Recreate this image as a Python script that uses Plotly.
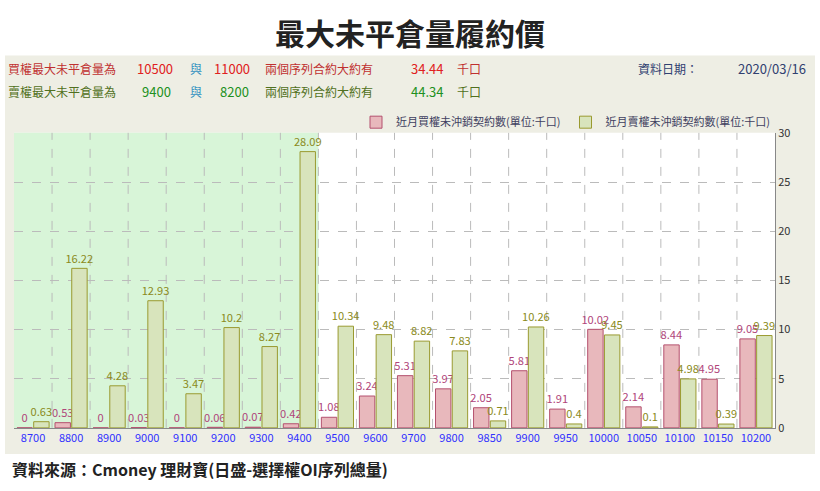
import plotly.graph_objects as go

strikes = ["8700","8800","8900","9000","9100","9200","9300","9400","9500","9600","9700","9800","9850","9900","9950","10000","10050","10100","10150","10200"]
call_oi = [0,0.53,0,0.03,0,0.06,0.07,0.42,1.08,3.24,5.31,3.97,2.05,5.81,1.91,10.02,2.14,8.44,4.95,9.05]
put_oi = [0.63,16.22,4.28,12.93,3.47,10.2,8.27,28.09,10.34,9.48,8.82,7.83,0.71,10.26,0.4,9.45,0.1,4.98,0.39,9.39]
y_ticks = [0,5,10,15,20,25,30]

W,H = 820,491
def px(x): return x/W
def py(y): return 1-y/H

xs = list(range(len(strikes)))
fig = go.Figure()
fig.add_bar(x=xs, y=call_oi, name="近月買權未沖銷契約數(單位:千口)", marker=dict(color="#E8B8BC", line=dict(color="#B4506E", width=1)),
            text=[f"{v:g}" for v in call_oi], textposition="outside", cliponaxis=False,
            textfont=dict(color="#B0457A", size=12))
fig.add_bar(x=xs, y=put_oi, name="近月賣權未沖銷契約數(單位:千口)", marker=dict(color="#D8E4BC", line=dict(color="#9A9A30", width=1)),
            text=[f"{v:g}" for v in put_oi], textposition="outside", cliponaxis=False,
            textfont=dict(color="#8A8A20", size=12))

shapes = [
    dict(type="rect", xref="paper", yref="paper", x0=px(5), x1=px(815), y0=py(460), y1=py(48), fillcolor="#EEEEE4", line=dict(width=0), layer="below"),
    dict(type="rect", xref="paper", yref="paper", x0=px(14), x1=px(775), y0=py(433), y1=py(128), fillcolor="white", line=dict(width=0), layer="below"),
    dict(type="rect", xref="x", yref="paper", x0=-0.5, x1=7.5, y0=py(433), y1=py(128), fillcolor="#D8F5D8", line=dict(width=0), layer="below"),
]
for i in range(len(strikes)-1):
    shapes.append(dict(type="line", xref="x", yref="paper", x0=i+0.5, x1=i+0.5, y0=py(433), y1=py(128), line=dict(color="#BBBBBB", width=1, dash="dash"), layer="below"))

ann = [
    dict(text="<b>最大未平倉量履約價</b>", x=0.5, y=py(24), yanchor="middle", xref="paper", yref="paper", showarrow=False, font=dict(size=30, color="#222")),
    dict(text="<b>資料來源：Cmoney 理財寶(日盛-選擇權OI序列總量)</b>", x=px(10), y=py(476), xanchor="left", yanchor="middle", xref="paper", yref="paper", showarrow=False, font=dict(size=16, color="#222")),
]
def t(x, y, s, c, anchor="left", size=12):
    ann.append(dict(text=s, x=px(x), y=py(y), xanchor=anchor, yanchor="middle", xref="paper", yref="paper", showarrow=False, font=dict(size=size, color=c)))
t(6,62,"買權最大未平倉量為","#C03030"); t(135,62,"10500","#E02020",size=13); t(188,62,"與","#3090C0"); t(212,62,"11000","#E02020",size=13)
t(263,62,"兩個序列合約大約有","#C03030"); t(445,62,"34.44","#E02020",anchor="right",size=13); t(455,62,"千口","#C03030")
t(6,85,"賣權最大未平倉量為","#507020"); t(140,85,"9400","#209020",size=13); t(188,85,"與","#3090C0"); t(218,85,"8200","#209020",size=13)
t(263,85,"兩個序列合約大約有","#507020"); t(445,85,"44.34","#209020",anchor="right",size=13); t(455,85,"千口","#507020")
t(636,62,"資料日期：","#304070"); t(808,62,"2020/03/16","#304070",anchor="right",size=13)

fig.update_layout(
    width=W, height=H, margin=dict(l=0,r=0,t=0,b=0), paper_bgcolor="white", plot_bgcolor="rgba(0,0,0,0)",
    shapes=shapes, annotations=ann, barmode="group", bargap=0.12, bargroupgap=0.08,
    uniformtext=dict(minsize=11, mode="show"),
    font=dict(family="Noto Sans CJK TC", size=12),
    legend=dict(orientation="h", x=px(775), xanchor="right", y=py(117), yanchor="middle", bgcolor="rgba(0,0,0,0)", font=dict(size=11, color="#404060"),
                itemwidth=30),
    xaxis=dict(domain=[px(14), px(775)], tickvals=xs, ticktext=strikes, range=[-0.5, len(strikes)-0.5],
               tickfont=dict(color="#3030FF", size=11), showgrid=False, showline=True, linecolor="#888", ticks=""),
    yaxis=dict(domain=[py(433), py(128)], side="right", range=[0,30], tickvals=y_ticks, tickfont=dict(size=11, color="#333"),
               gridcolor="#BBBBBB", griddash="dash", zeroline=False, showline=True, linecolor="#888"),
)
fig.write_html("out.html", config={"displayModeBar": False},
               post_script="document.body.style.margin='0';document.body.style.overflow='hidden';")
